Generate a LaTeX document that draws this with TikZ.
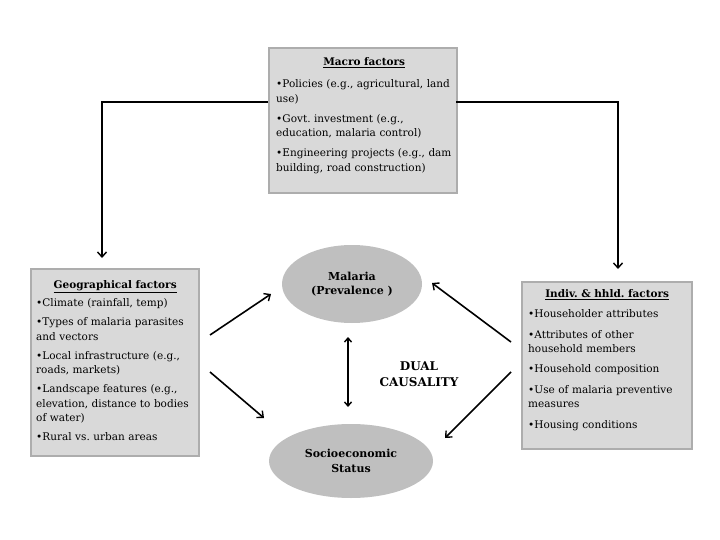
\documentclass[tikz,border=0pt]{standalone}
\usepackage{fontspec}
\setmainfont{DejaVu Serif}
\frenchspacing
\usetikzlibrary{arrows.meta,shapes.geometric}
\tikzset{
  factorbox/.style={draw=black!32, line width=1.6pt, fill=black!15, anchor=north west, inner sep=0pt},
  factortext/.style={anchor=north west, align=left, inner sep=0pt, font=\fontsize{10.5}{14.5}\selectfont},
  bubble/.style={ellipse, fill=black!25, inner sep=0pt, align=center, font=\fontsize{11}{14.5}\selectfont\bfseries},
  arr/.style={line width=1.6pt, -{Straight Barb[length=5pt,width=9pt,line width=1.4pt]}},
  darr/.style={line width=1.4pt, {Straight Barb[length=4pt,width=7pt]}-{Straight Barb[length=4pt,width=7pt]}},
}
\newcommand{\btitle}[1]{\makebox[\linewidth][c]{\underline{\textbf{#1}}}}
\begin{document}
\begin{tikzpicture}[x=1pt,y=-1pt]
\useasboundingbox (0,0) rectangle (720,540);
% boxes
\node[factorbox, minimum width=188, minimum height=145] (macro) at (268,47) {};
\node[factorbox, minimum width=168, minimum height=187] (geo) at (30,268) {};
\node[factorbox, minimum width=170, minimum height=167] (indiv) at (521,281) {};
% texts
\node[factortext, text width=176] (macrot) at (276,57) {%
\btitle{Macro factors}\\[8pt]
•Policies (e.g., agricultural, land\\ use)\\[5.5pt]
•Govt. investment (e.g.,\\ education, malaria control)\\[5.5pt]
•Engineering projects (e.g., dam\\ building, road construction)};
\node[factortext, text width=158, font=\fontsize{10.5}{14.3}\selectfont] (geot) at (36,280) {%
\btitle{Geographical factors}\\[4pt]
•Climate (rainfall, temp)\\[5pt]
•Types of malaria parasites\\ and vectors\\[5pt]
•Local infrastructure (e.g.,\\ roads, markets)\\[5pt]
•Landscape features (e.g.,\\ elevation, distance to bodies\\ of water)\\[5pt]
•Rural vs. urban areas};
\node[factortext, text width=158, font=\fontsize{10.5}{13.7}\selectfont] (indivt) at (528,289) {%
\btitle{Indiv. \& hhld. factors}\\[7pt]
•Householder attributes\\[7pt]
•Attributes of other\\ household members\\[7pt]
•Household composition\\[7pt]
•Use of malaria preventive\\ measures\\[7pt]
•Housing conditions};
% ellipses
\node[bubble, minimum width=140, minimum height=78] (mal) at (352,284) {Malaria\\(Prevalence )};
\node[bubble, minimum width=164, minimum height=74] (ses) at (351,461) {Socioeconomic\\Status};
\node[font=\fontsize{12}{15.5}\selectfont\bfseries, align=center] (dual) at (419,374) {DUAL\\CAUSALITY};
% coordinates
\coordinate (l0) at (268,102);
\coordinate (l1) at (102,102);
\coordinate (l2) at (102,258);
\coordinate (r0) at (456,102);
\coordinate (r1) at (618,102);
\coordinate (r2) at (618,269);
\coordinate (ga) at (210,335);
\coordinate (gat) at (271,294);
\coordinate (gb) at (210,372);
\coordinate (gbt) at (264,418);
\coordinate (ia) at (511,342);
\coordinate (iat) at (432,283);
\coordinate (ib) at (511,372);
\coordinate (ibt) at (445,438);
\coordinate (d1) at (348,337);
\coordinate (d2) at (348,407);
% connectors
\draw[arr] (l0) -- (l1) -- (l2);
\draw[arr] (r0) -- (r1) -- (r2);
\draw[arr] (ga) -- (gat);
\draw[arr] (gb) -- (gbt);
\draw[arr] (ia) -- (iat);
\draw[arr] (ib) -- (ibt);
\draw[darr] (d1) -- (d2);
\end{tikzpicture}
\end{document}
